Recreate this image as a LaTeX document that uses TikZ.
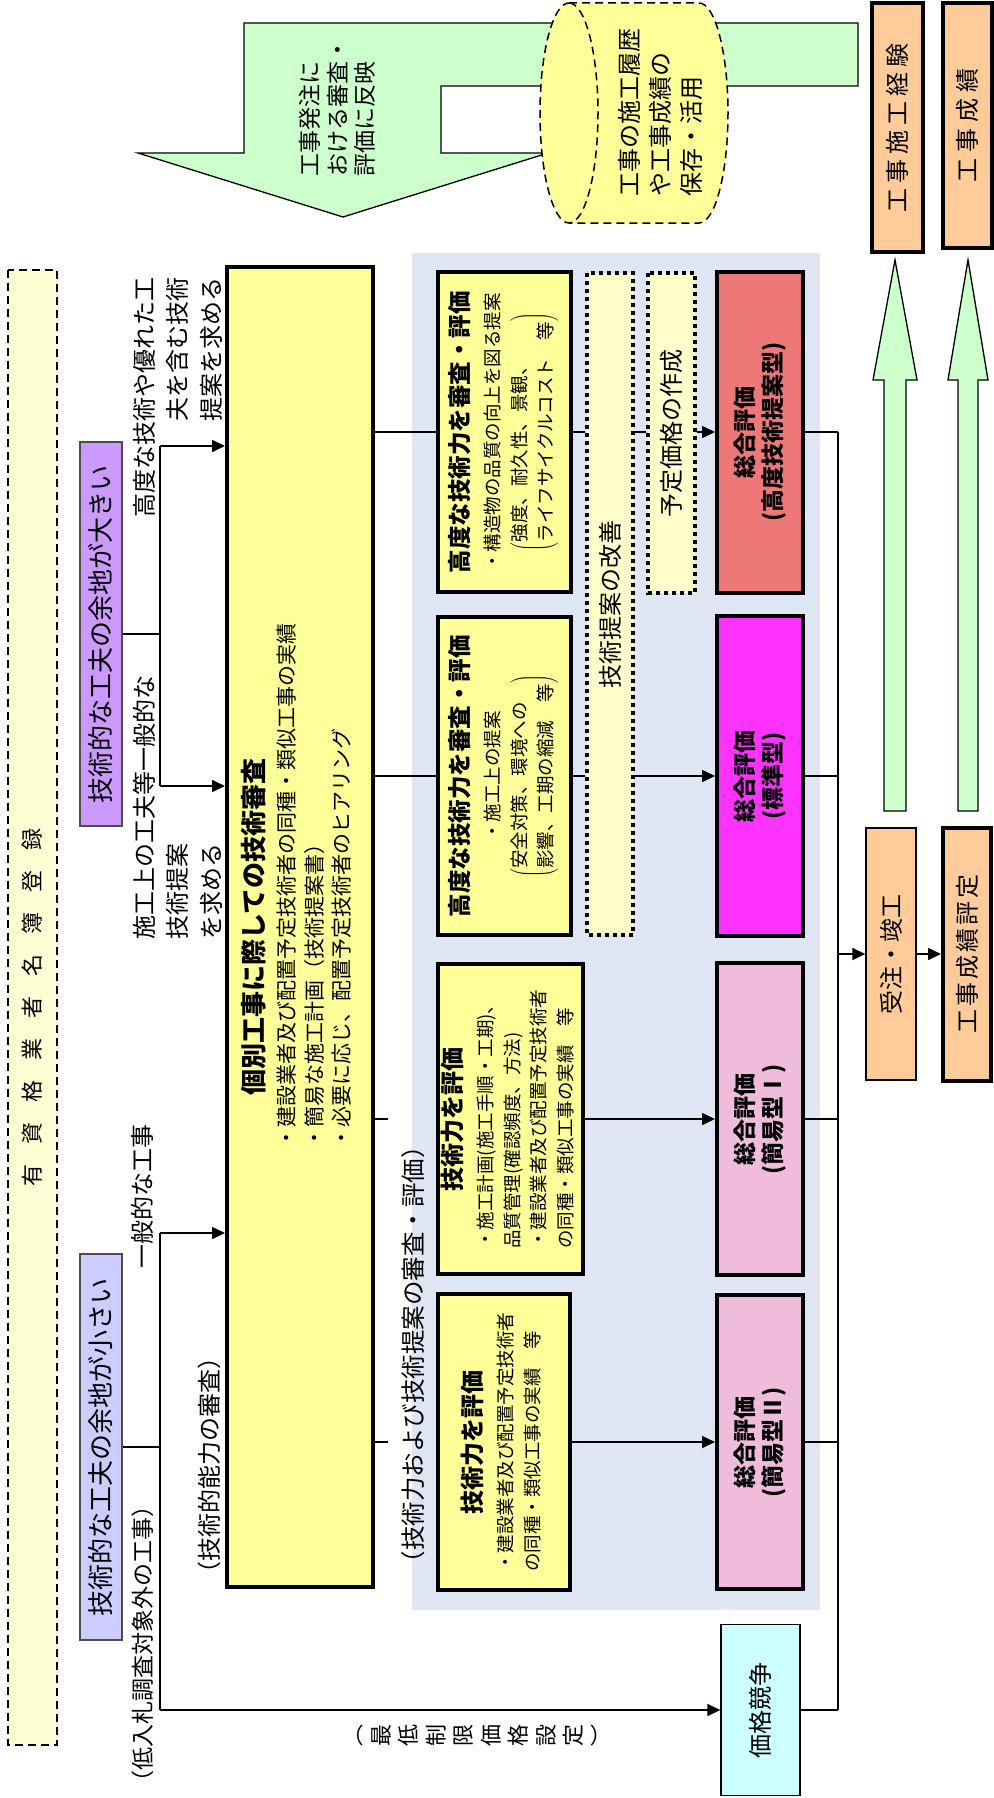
\documentclass[tikz,border=0pt]{standalone}
\usepackage{fontspec}
\setmainfont{Noto Sans CJK JP}
\usetikzlibrary{arrows.meta}
\definecolor{palegreen}{HTML}{CCFFCC}
\definecolor{regyellow}{HTML}{FFFFD5}
\definecolor{lavender}{HTML}{CC99FF}
\definecolor{periwinkle}{HTML}{CCCCFF}
\definecolor{boxyellow}{HTML}{FFFF99}
\definecolor{paleyellow}{HTML}{FFFFCC}
\definecolor{propshade}{HTML}{DDE6F2}
\definecolor{coralbox}{HTML}{EE7777}
\definecolor{magentabox}{HTML}{FF33FF}
\definecolor{pinkbox}{HTML}{F0BCDC}
\definecolor{cyanbox}{HTML}{CCFFFF}
\definecolor{peach}{HTML}{FFCC99}
\newcommand{\fsz}[2]{\fontsize{#1}{#2}\selectfont}
\tikzset{
  vtext/.style={rotate=90, inner sep=0pt},
  thickbox/.style={vtext, draw, line width=4pt, align=center},
  thinbox/.style={vtext, draw, line width=1.3pt, align=center},
  roombox/.style={vtext, draw=black!70, line width=1.3pt, minimum height=42pt, font=\fsz{26}{30}},
  dotbox/.style={vtext, draw, line width=4pt, dash pattern=on 4pt off 4pt, fill=paleyellow, font=\fsz{24}{28}},
  totbox/.style={thickbox, minimum height=86pt, font=\fsz{23}{28}\bfseries},
  conn/.style={line width=1.6pt},
  blockarrow/.style={draw, line width=1.3pt, fill=palegreen},
}
\begin{document}
\begin{tikzpicture}[x=1pt,y=-1pt,>={Triangle[length=13pt,width=12pt]}]
\useasboundingbox (0,0) rectangle (993,1798);
\fill[propshade] (412,253) rectangle (820,1610); % proposal area

% feedback arrow and record store
\draw[blockarrow] (244,23) -- (858,23) -- (858,86) -- (441,86) -- (441,153) -- (548,153)
  -- (343,217) -- (138,153) -- (244,153) -- cycle;
\draw[line width=1.5pt, dash pattern=on 8pt off 5pt, fill=boxyellow] (569,3) -- (699,3)
  arc[start angle=-90, end angle=90, x radius=29, y radius=110] -- (569,223)
  arc[start angle=90, end angle=270, x radius=29, y radius=110] -- cycle;
\draw[line width=1.5pt, dash pattern=on 8pt off 5pt] (569,3) arc[start angle=-90, end angle=90, x radius=29, y radius=110];
\node[vtext, anchor=west, align=left, font=\fsz{23}{27.5}] (feedback) at (337.5,177) {工事発注に\\おける審査・\\評価に反映};
\node[vtext, anchor=west, align=left, font=\fsz{24}{31}] (store) at (660,197) {工事の施工履歴\\や工事成績の\\保存・活用};

% up arrows
\foreach \c/\s/\h in {895/11/22,968/10/20}
  \draw[blockarrow] (\c-\s,811) -- (\c-\s,380) -- (\c-\h,380) -- (\c,260) -- (\c+\h,380) -- (\c+\s,380) -- (\c+\s,811) -- cycle;

% registration
\node[vtext, draw, dash pattern=on 8pt off 5pt, line width=1.5pt, fill=regyellow, minimum width=1475pt, minimum height=49pt, font=\fsz{22}{26}] (reg) at (32.5,1007.5)
  {有\hspace{20pt}資\hspace{20pt}格\hspace{20pt}業\hspace{20pt}者\hspace{20pt}名\hspace{20pt}簿\hspace{20pt}登\hspace{20pt}録};
\node[roombox, fill=lavender, minimum width=384pt] (bigRoom) at (101,634) {技術的な工夫の余地が大きい};
\node[roombox, fill=periwinkle, minimum width=386pt] (smallRoom) at (101,1447) {技術的な工夫の余地が小さい};

% labels
\node[vtext, anchor=east, align=right, font=\fsz{24}{33.5}] (lblHigh) at (177.5,277) {高度な技術や優れた工\\夫を含む技術\\提案を求める};
\node[vtext, anchor=west, align=left, font=\fsz{24}{33.5}] (lblGen) at (177.5,940) {施工上の工夫等一般的な\\技術提案\\を求める};
\node[vtext, font=\fsz{24}{28}] (lblWork) at (142.5,1196.5) {一般的な工事};
\node[vtext, font=\fsz{23}{28}] (lblLow) at (143,1643.5) {（低入札調査対象外の工事）};
\node[vtext, font=\fsz{24}{28}] (lblAbility) at (209.5,1465) {（技術的能力の審査）};
\node[vtext, font=\fsz{24.5}{28}] (lblProp) at (413.5,1354.5) {（技術力および技術提案の審査・評価）};
\node[vtext, align=center, font=\fsz{22}{27.5}] (lblMin) at (483.5,1735) {︵\\最\\低\\制\\限\\価\\格\\設\\定\\︶};

% individual review
\node[thickbox, fill=boxyellow, minimum width=1320pt, minimum height=146pt, font=\fsz{21}{31}] (indiv) at (300,927)
  {{\fsz{26}{31}\bfseries 個別工事に際しての技術審査}\\
   \hspace*{82pt}{\fsz{21}{27.5}\begin{tabular}[t]{@{}l@{}}・建設業者及び配置予定技術者の同種・類似工事の実績\\・簡易な施工計画（技術提案書）\\・必要に応じ、配置予定技術者のヒアリング\end{tabular}}};

% evaluation boxes
\node[thickbox, fill=boxyellow, minimum width=320pt, minimum height=133pt, font=\fsz{18.5}{31}] (propA) at (504.5,432)
  {{\fsz{23.5}{30}\bfseries 高度な技術力を審査・評価}\\・構造物の品質の向上を図る提案\\[6pt]
   {\fsz{18.5}{26}$\left(\begin{tabular}{@{}l@{}}強度、耐久性、景観、\\ライフサイクルコスト　等\end{tabular}\right)$}};
\node[thickbox, fill=boxyellow, minimum width=318pt, minimum height=133pt, font=\fsz{18.5}{31}] (propB) at (504.5,776)
  {{\fsz{23.5}{30}\bfseries 高度な技術力を審査・評価}\\・施工上の提案\\[6pt]
   {\fsz{18.5}{26}$\left(\begin{tabular}{@{}l@{}}安全対策、環境への\\影響、工期の縮減　等\end{tabular}\right)$}};
\node[thickbox, fill=boxyellow, minimum width=310pt, minimum height=145pt, font=\fsz{18.5}{31}] (skillI) at (510.5,1119)
  {{\fsz{24}{30}\bfseries 技術力を評価}\\{\fsz{18.5}{26.5}\begin{tabular}[t]{@{}l@{}}・施工計画(施工手順・工期)、\\品質管理(確認頻度、方法)\\・建設業者及び配置予定技術者\\の同種・類似工事の実績　等\end{tabular}}};
\node[thickbox, fill=boxyellow, minimum width=296pt, minimum height=132pt, font=\fsz{18.5}{31}] (skillII) at (504,1442)
  {{\fsz{24}{30}\bfseries 技術力を評価}\\{\fsz{18.5}{26.5}\begin{tabular}[t]{@{}l@{}}・建設業者及び配置予定技術者\\の同種・類似工事の実績　等\end{tabular}}};
\node[dotbox, minimum width=662pt, minimum height=46pt] (improve) at (610,604) {技術提案の改善};
\node[dotbox, minimum width=320pt, minimum height=47pt] (price) at (671.5,433) {予定価格の作成};

% overall evaluation
\node[totbox, fill=coralbox, minimum width=321pt] (totE) at (760,432) {総合評価\\(高度技術提案型)};
\node[totbox, fill=magentabox, minimum width=320pt] (totF) at (760,776) {総合評価\\(標準型)};
\node[totbox, fill=pinkbox, minimum width=312pt] (totG) at (760,1119) {総合評価\\(簡易型Ⅰ)};
\node[totbox, fill=pinkbox, minimum width=294pt] (totH) at (760,1442) {総合評価\\(簡易型Ⅱ)};
\node[thinbox, fill=cyanbox, minimum width=171pt, minimum height=79pt, font=\fsz{24}{28}] (priceComp) at (760.5,1710) {価格競争};

% after award
\node[thinbox, fill=peach, minimum width=252pt, minimum height=50pt, font=\fsz{24}{28}] (order) at (891,954) {受注・竣工};
\node[thickbox, fill=peach, minimum width=253pt, minimum height=48pt, font=\fsz{24}{28}] (rating) at (967,954) {工\hspace{3pt}事\hspace{3pt}成\hspace{3pt}績\hspace{3pt}評\hspace{3pt}定};
\node[thickbox, fill=peach, minimum width=249pt, minimum height=51pt, font=\fsz{24}{28}] (exp) at (897.5,127.5) {工\hspace{5pt}事\hspace{5pt}施\hspace{5pt}工\hspace{5pt}経\hspace{5pt}験};
\node[thickbox, fill=peach, minimum width=245pt, minimum height=49pt, font=\fsz{24}{28}] (perf) at (967.5,125.5) {工\hspace{6pt}事\hspace{6pt}成\hspace{6pt}績};

% connectors
\coordinate (jHigh) at (160,446);
\coordinate (jGen) at (160,786);
\coordinate (jLow) at (160,1233);
\coordinate (jMin) at (160,1710);
\coordinate (stub) at (388,0);
\coordinate (bus) at (838,0);
\draw[conn] (bigRoom) -- (bigRoom -| jHigh);
\draw[conn] (jHigh) -- (jGen);
\draw[conn,->] (jHigh) -- (jHigh -| indiv.north);
\draw[conn,->] (jGen) -- (jGen -| indiv.north);
\draw[conn] (smallRoom) -- (smallRoom -| jLow);
\draw[conn] (jLow) -- (jMin);
\draw[conn,->] (jLow) -- (jLow -| indiv.north);
\draw[conn,->] (jMin) -- (priceComp);
\foreach \b in {propA,propB}
  \draw[conn] (indiv.south |- \b) -- (\b);
\foreach \b in {skillI,skillII}
  \draw[conn] (indiv.south |- \b) -- (stub |- \b);
\draw[conn] (propA) -- (propA -| improve.north);
\draw[conn] (propA -| improve.south) -- (propA -| price.north);
\draw[conn,->] (propA -| price.south) -- (totE);
\draw[conn] (propB) -- (propB -| improve.north);
\draw[conn,->] (propB -| improve.south) -- (totF);
\draw[conn,->] (skillI) -- (totG);
\draw[conn,->] (skillII) -- (totH);
\foreach \b in {totE,totF,totG,totH,priceComp}
  \draw[conn] (\b) -- (\b -| bus);
\draw[conn] (totE -| bus) -- (priceComp -| bus);
\draw[conn,->] (order -| bus) -- (order);
\draw[conn,->] (order) -- (rating);
\end{tikzpicture}
\end{document}
